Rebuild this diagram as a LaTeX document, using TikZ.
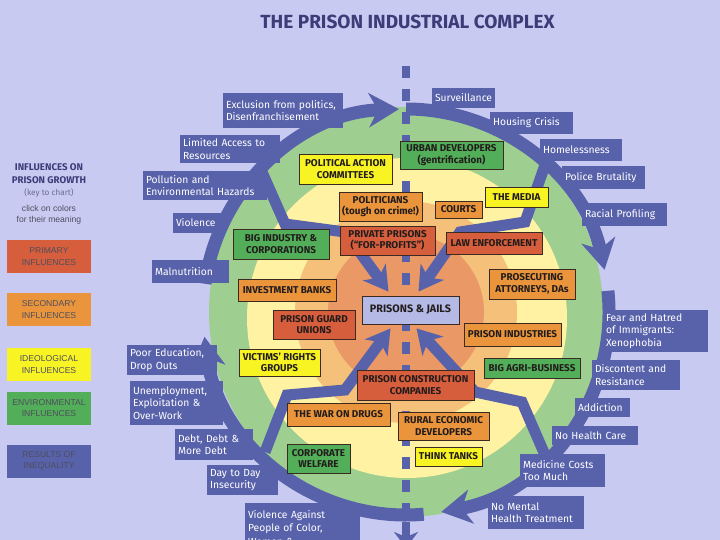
\documentclass[tikz,border=0pt]{standalone}
\usepackage{fontspec}
\setmainfont{Fira Sans}
\newfontfamily\keyfont{Liberation Sans}
\usepackage{xcolor}
\usepackage{tikz}
\usetikzlibrary{arrows.meta}
\definecolor{paper}{HTML}{C9CAF2}
\definecolor{ringblue}{HTML}{5862AA}
\definecolor{navy}{HTML}{3C3C78}
\definecolor{greenring}{HTML}{9FCF90}
\definecolor{yellowring}{HTML}{FFF2A2}
\definecolor{paleorange}{HTML}{F4C07A}
\definecolor{deeporange}{HTML}{EA9866}
\definecolor{primary}{HTML}{D65E3C}
\definecolor{secondary}{HTML}{EA953C}
\definecolor{ideology}{HTML}{F8F424}
\definecolor{environ}{HTML}{52AE58}
\definecolor{jailblue}{HTML}{B4B9E6}
\definecolor{edge}{HTML}{3A2A22}
\definecolor{ink}{HTML}{221C1C}
\definecolor{keyink}{HTML}{4E4E5E}
\definecolor{muted}{HTML}{6A6A98}
\tikzset{
  influence/.style={
    draw=edge, line width=0.8pt, text=ink, align=center, inner sep=1pt,
    font=\bfseries\fontsize{9.9}{11.3}\selectfont
  },
  prim/.style={influence, fill=primary},
  sec/.style={influence, fill=secondary},
  ideo/.style={influence, fill=ideology},
  env/.style={influence, fill=environ},
  result/.style={
    fill=ringblue, text=white, align=left, inner xsep=3pt, inner ysep=1pt,
    font=\hyphenpenalty10000\relax\fontsize{10.3}{12.6}\selectfont
  },
  keybox/.style={
    minimum width=84pt, minimum height=33pt, align=center, text=keyink,
    font=\keyfont\fontsize{8.6}{11.2}\selectfont
  },
  loopflow/.style={draw=ringblue, line width=13pt, -{Stealth[length=30pt,width=34pt,inset=9pt]}},
  branch/.style={draw=ringblue, line width=11pt, -{Stealth[length=24pt,width=28pt,inset=7pt]}},
  spine/.style={draw=ringblue, line width=8pt, dash pattern=on 12pt off 11pt}
}
\begin{document}
\begin{tikzpicture}[x=1pt,y=-1pt]
  \useasboundingbox (0,0) rectangle (720,540);
  \clip (0,0) rectangle (720,540);
  \fill[paper] (0,0) rectangle (720,540);

  \coordinate (ctr) at (406,312);
  \fill[greenring] (ctr) circle[x radius=197, y radius=205];
  \fill[yellowring] (407,318) circle[radius=160];
  \fill[paleorange] (ctr) circle[radius=111];
  \fill[deeporange] (ctr) circle[radius=78];

  \coordinate (spinetop) at (406,66);
  \coordinate (spinebot) at (406,522);
  \coordinate (spinetip) at (406,548);
  \draw[spine] (spinetop) -- (spinebot);
  \draw[draw=ringblue, line width=8pt, -{Stealth[length=16pt,width=24pt,inset=5pt]}] (spinebot) -- (spinetip);

  \draw[loopflow] ([shift={(270:203)}]ctr) arc[start angle=270, end angle=348, radius=203];
  \draw[loopflow] ([shift={(354:203)}]ctr) arc[start angle=354, end angle=440, radius=203];
  \draw[loopflow] ([shift={(85:203)}]ctr) arc[start angle=85, end angle=173, radius=203];
  \draw[loopflow] ([shift={(188:203)}]ctr) arc[start angle=188, end angle=268, radius=203];

  \node[influence, fill=jailblue, minimum width=97pt, minimum height=28pt, font=\bfseries\fontsize{10.8}{12}\selectfont] (jails) at (410.5,310) {PRISONS \& JAILS};

  \coordinate (ulstart) at (262,172);
  \coordinate (urstart) at (545,165);
  \coordinate (llstart) at (265,452);
  \coordinate (lrstart) at (545,455);
  \draw[branch] (ulstart) -- (285,224) -- (345,232) -- ([xshift=-22pt,yshift=4pt]jails.north);
  \draw[branch] (urstart) -- (525,222) -- (460,232) -- ([xshift=8pt,yshift=4pt]jails.north);
  \draw[branch] (llstart) -- (287,395) -- (345,390) -- ([xshift=-20pt,yshift=-4pt]jails.south);
  \draw[branch] (lrstart) -- (522,402) -- (475,392) -- ([xshift=6pt,yshift=-4pt]jails.south);

  \node[ideo, minimum width=93pt, minimum height=30pt] (pac) at (345.5,169) {POLITICAL ACTION\\COMMITTEES};
  \node[env, minimum width=103pt, minimum height=28pt] (urban) at (451.5,155) {URBAN DEVELOPERS\\(gentrification)};
  \node[sec, minimum width=83pt, minimum height=29pt] (politicians) at (380.5,206.5) {POLITICIANS\\(tough on crime!)};
  \node[sec, minimum width=47pt, minimum height=17pt] (courts) at (458.5,209.5) {COURTS};
  \node[ideo, minimum width=63pt, minimum height=20pt] (media) at (516.5,197) {THE MEDIA};
  \node[prim, minimum width=95pt, minimum height=29pt] (privateprisons) at (387.5,240.5) {PRIVATE PRISONS\\(``FOR-PROFITS'')};
  \node[prim, minimum width=96pt, minimum height=22pt] (lawenforcement) at (494,243) {LAW ENFORCEMENT};
  \node[env, minimum width=96pt, minimum height=30pt] (bigindustry) at (281,244) {BIG INDUSTRY \&\\CORPORATIONS};
  \node[sec, minimum width=98pt, minimum height=22pt] (banks) at (287,290) {INVESTMENT BANKS};
  \node[sec, minimum width=86pt, minimum height=30pt] (prosecutors) at (532,284) {PROSECUTING\\ATTORNEYS, DAs};
  \node[prim, minimum width=82pt, minimum height=29pt] (guardunions) at (314,324.5) {PRISON GUARD\\UNIONS};
  \node[sec, minimum width=97pt, minimum height=23pt] (industries) at (512.5,334.5) {PRISON INDUSTRIES};
  \node[ideo, minimum width=81pt, minimum height=27pt] (victims) at (279.5,362.5) {VICTIMS' RIGHTS\\GROUPS};
  \node[env, minimum width=96pt, minimum height=20pt] (agribusiness) at (532,368) {BIG AGRI-BUSINESS};
  \node[prim, minimum width=117pt, minimum height=30pt] (construction) at (415.5,385) {PRISON CONSTRUCTION\\COMPANIES};
  \node[sec, minimum width=103pt, minimum height=23pt] (wardrugs) at (338.5,414.5) {THE WAR ON DRUGS};
  \node[sec, minimum width=91pt, minimum height=28pt] (rural) at (443.5,426) {RURAL ECONOMIC\\DEVELOPERS};
  \node[env, minimum width=63pt, minimum height=29pt] (welfare) at (318.5,458.5) {CORPORATE\\WELFARE};
  \node[ideo, minimum width=67pt, minimum height=19pt] (thinktanks) at (448.5,456.5) {THINK TANKS};

  \node[result, text width=114pt, minimum height=35pt] (exclusion) at (283,110.5) {Exclusion from politics,\\Disenfranchisement};
  \node[result, text width=94pt, minimum height=28pt] (access) at (230,149) {Limited Access to\\Resources};
  \node[result, text width=118pt, minimum height=29pt] (pollution) at (205,185.5) {Pollution and\\Environmental Hazards};
  \node[result, text width=42pt, minimum height=20pt] (violence) at (197,223) {Violence};
  \node[result, text width=71pt, minimum height=23pt] (malnutrition) at (190.5,271.5) {Malnutrition};
  \node[result, text width=84pt, minimum height=30pt] (education) at (172,360) {Poor Education,\\Drop Outs};
  \node[result, text width=87pt, minimum height=44pt] (unemployment) at (176.5,403) {Unemployment,\\Exploitation \&\\Over-Work};
  \node[result, text width=72pt, minimum height=31pt] (debt) at (214,444.5) {Debt, Debt \&\\More Debt};
  \node[result, text width=65pt, minimum height=30pt] (insecurity) at (242.5,480) {Day to Day\\Insecurity};
  \node[result, text width=109pt, minimum height=50pt, font=\fontsize{10.3}{13.2}\selectfont] (violenceagainst) at (302.5,528) {Violence Against\\People of Color,\\Women \&};

  \node[result, text width=57pt, minimum height=20pt] (surveillance) at (463.5,98) {Surveillance};
  \node[result, text width=77pt, minimum height=22pt] (housing) at (531.5,123) {Housing Crisis};
  \node[result, text width=76pt, minimum height=22pt] (homelessness) at (581,150) {Homelessness};
  \node[result, text width=77pt, minimum height=23pt] (brutality) at (603.5,177.5) {Police Brutality};
  \node[result, text width=79pt, minimum height=23pt] (profiling) at (624.5,214.5) {Racial Profiling};
  \node[result, text width=99pt, minimum height=42pt] (xenophobia) at (655.5,331) {Fear and Hatred\\of Immigrants:\\Xenophobia};
  \node[result, text width=82pt, minimum height=30pt] (resistance) at (636,375) {Discontent and\\Resistance};
  \node[result, text width=49pt, minimum height=19pt] (addiction) at (602.5,407.5) {Addiction};
  \node[result, text width=80pt, minimum height=19pt] (healthcare) at (595,435.5) {No Health Care};
  \node[result, text width=79pt, minimum height=33pt] (medicine) at (562.5,470.5) {Medicine Costs\\Too Much};
  \node[result, text width=90pt, minimum height=33pt] (mentalhealth) at (536,512.5) {No Mental\\Health Treatment};

  \node[font=\bfseries\fontsize{19}{22}\selectfont, text=navy] (title) at (407.5,22) {THE PRISON INDUSTRIAL COMPLEX};

  \node[font=\bfseries\fontsize{9.7}{13.3}\selectfont, text=navy, align=center] (keytitle) at (49,173.5) {INFLUENCES ON\\PRISON GROWTH};
  \node[font=\fontsize{8.2}{9}\selectfont, text=muted] (keynote) at (49,193) {(key to chart)};
  \node[font=\keyfont\fontsize{8.6}{11}\selectfont, text=keyink, align=center] (keyhint) at (49,214.5) {click on colors\\for their meaning};
  \foreach \shade/\ypos/\words [count=\i] in {primary/256.5/{PRIMARY\\INFLUENCES}, secondary/309.5/{SECONDARY\\INFLUENCES}, ideology/364.5/{IDEOLOGICAL\\INFLUENCES}, environ/408/{ENVIRONMENTAL\\INFLUENCES}, ringblue/461/{RESULTS OF\\INEQUALITY}} {
    \node[keybox, fill=\shade] (key\i) at (49,\ypos) {\words};
  }
\end{tikzpicture}
\end{document}
